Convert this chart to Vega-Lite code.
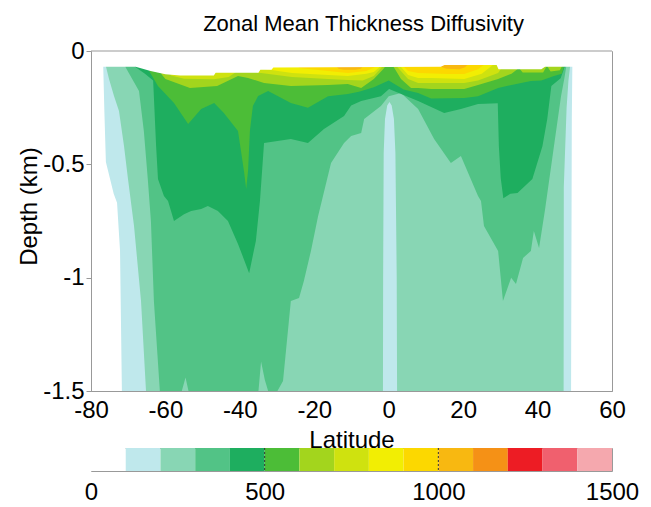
{
  "$schema": "https://vega.github.io/schema/vega-lite/v6.json",
  "padding": {"left": 16, "top": 12, "right": 5, "bottom": 5},
  "bounds": "flush",
  "spacing": 57,
  "resolve": {"scale": {"x": "independent"}},
  "config": {
    "font": "Liberation Sans",
    "view": {"stroke": "#999999"},
    "axis": {"labelColor": "black", "titleColor": "black", "labelFont": "Liberation Sans", "titleFont": "Liberation Sans", "titleFontWeight": "normal", "grid": false, "labelFlush": false, "labelOverlap": false, "domainColor": "#999999", "tickColor": "#999999"}
  },
  "datasets": {
    "contours": [
      {"level":100,"lat":-76.7,"depth":-0.075},{"level":100,"lat":-76.4,"depth":-0.27},{"level":100,"lat":-76.0,"depth":-0.49},{"level":100,"lat":-73.9,"depth":-0.63},{"level":100,"lat":-73.0,"depth":-0.67},{"level":100,"lat":-72.2,"depth":-0.88},{"level":100,"lat":-71.7,"depth":-1.5},{"level":100,"lat":49.0,"depth":-1.5},{"level":100,"lat":49.2,"depth":-0.3},{"level":100,"lat":49.35,"depth":-0.06},

      {"level":200,"lat":-76.2,"depth":-0.06},{"level":200,"lat":-75.97,"depth":-0.07},{"level":200,"lat":-75.16,"depth":-0.124},{"level":200,"lat":-73.82,"depth":-0.199},{"level":200,"lat":-72.48,"depth":-0.265},{"level":200,"lat":-71.13,"depth":-0.419},{"level":200,"lat":-70.06,"depth":-0.565},{"level":200,"lat":-68.44,"depth":-0.772},{"level":200,"lat":-66.56,"depth":-1.103},{"level":200,"lat":-65.22,"depth":-1.5},{"level":200,"lat":-1.55,"depth":-1.5},{"level":200,"lat":-1.5,"depth":-1.0},{"level":200,"lat":-1.35,"depth":-0.45},{"level":200,"lat":-1.0,"depth":-0.3},{"level":200,"lat":-0.4,"depth":-0.24},{"level":200,"lat":0.2,"depth":-0.225},{"level":200,"lat":0.8,"depth":-0.24},{"level":200,"lat":1.4,"depth":-0.3},{"level":200,"lat":1.8,"depth":-0.45},{"level":200,"lat":2.15,"depth":-1.0},{"level":200,"lat":2.25,"depth":-1.5},{"level":200,"lat":47.0,"depth":-1.5},{"level":200,"lat":47.05,"depth":-0.6},{"level":200,"lat":47.8,"depth":-0.25},{"level":200,"lat":48.3,"depth":-0.13},{"level":200,"lat":48.8,"depth":-0.06},

      {"level":300,"lat":-71.0,"depth":-0.06},{"level":300,"lat":-70.6,"depth":-0.075},{"level":300,"lat":-67.1,"depth":-0.176},{"level":300,"lat":-65.8,"depth":-0.353},{"level":300,"lat":-64.7,"depth":-0.574},{"level":300,"lat":-63.9,"depth":-0.75},{"level":300,"lat":-63.1,"depth":-1.103},{"level":300,"lat":-61.5,"depth":-1.5},{"level":300,"lat":-55.6,"depth":-1.5},{"level":300,"lat":-54.6,"depth":-1.44},{"level":300,"lat":-53.8,"depth":-1.5},{"level":300,"lat":-35.0,"depth":-1.5},{"level":300,"lat":-34.3,"depth":-1.37},{"level":300,"lat":-33.3,"depth":-1.45},{"level":300,"lat":-32.4,"depth":-1.5},{"level":300,"lat":-29.9,"depth":-1.5},{"level":300,"lat":-28.4,"depth":-1.456},{"level":300,"lat":-26.3,"depth":-1.103},{"level":300,"lat":-24.1,"depth":-1.09},{"level":300,"lat":-22.8,"depth":-1.015},{"level":300,"lat":-20.9,"depth":-0.882},{"level":300,"lat":-19.0,"depth":-0.73},{"level":300,"lat":-15.5,"depth":-0.494},{"level":300,"lat":-12.0,"depth":-0.406},{"level":300,"lat":-10.1,"depth":-0.375},{"level":300,"lat":-7.4,"depth":-0.362},{"level":300,"lat":-6.6,"depth":-0.30},{"level":300,"lat":-2.1,"depth":-0.243},{"level":300,"lat":0.0,"depth":-0.20},{"level":300,"lat":3.3,"depth":-0.185},{"level":300,"lat":7.9,"depth":-0.256},{"level":300,"lat":12.2,"depth":-0.388},{"level":300,"lat":16.7,"depth":-0.494},{"level":300,"lat":19.4,"depth":-0.463},{"level":300,"lat":24.0,"depth":-0.64},{"level":300,"lat":24.8,"depth":-0.662},{"level":300,"lat":25.6,"depth":-0.772},{"level":300,"lat":29.4,"depth":-0.882},{"level":300,"lat":30.7,"depth":-1.103},{"level":300,"lat":32.9,"depth":-1.0},{"level":300,"lat":34.2,"depth":-1.028},{"level":300,"lat":36.1,"depth":-0.913},{"level":300,"lat":38.2,"depth":-0.882},{"level":300,"lat":39.0,"depth":-0.794},{"level":300,"lat":40.4,"depth":-0.869},{"level":300,"lat":42.0,"depth":-0.70},{"level":300,"lat":44.4,"depth":-0.42},{"level":300,"lat":46.3,"depth":-0.2},{"level":300,"lat":47.2,"depth":-0.12},{"level":300,"lat":47.8,"depth":-0.06},

      {"level":400,"lat":-68.3,"depth":-0.06},{"level":400,"lat":-68.0,"depth":-0.072},{"level":400,"lat":-65.5,"depth":-0.10},{"level":400,"lat":-63.3,"depth":-0.13},{"level":400,"lat":-62.5,"depth":-0.42},{"level":400,"lat":-62.0,"depth":-0.565},{"level":400,"lat":-60.4,"depth":-0.64},{"level":400,"lat":-59.3,"depth":-0.662},{"level":400,"lat":-57.7,"depth":-0.75},{"level":400,"lat":-55.0,"depth":-0.72},{"level":400,"lat":-53.1,"depth":-0.706},{"level":400,"lat":-50.4,"depth":-0.697},{"level":400,"lat":-48.6,"depth":-0.684},{"level":400,"lat":-45.9,"depth":-0.706},{"level":400,"lat":-43.2,"depth":-0.75},{"level":400,"lat":-40.5,"depth":-0.851},{"level":400,"lat":-37.5,"depth":-0.98},{"level":400,"lat":-35.7,"depth":-0.838},{"level":400,"lat":-34.6,"depth":-0.662},{"level":400,"lat":-33.5,"depth":-0.406},{"level":400,"lat":-26.3,"depth":-0.388},{"level":400,"lat":-21.7,"depth":-0.406},{"level":400,"lat":-17.4,"depth":-0.344},{"level":400,"lat":-12.0,"depth":-0.287},{"level":400,"lat":-10.1,"depth":-0.24},{"level":400,"lat":-7.4,"depth":-0.221},{"level":400,"lat":-2.1,"depth":-0.20},{"level":400,"lat":0.1,"depth":-0.168},{"level":400,"lat":1.4,"depth":-0.176},{"level":400,"lat":7.9,"depth":-0.221},{"level":400,"lat":14.9,"depth":-0.274},{"level":400,"lat":19.4,"depth":-0.256},{"level":400,"lat":24.0,"depth":-0.234},{"level":400,"lat":29.3,"depth":-0.23},{"level":400,"lat":29.6,"depth":-0.42},{"level":400,"lat":30.1,"depth":-0.56},{"level":400,"lat":30.8,"depth":-0.65},{"level":400,"lat":32.7,"depth":-0.63},{"level":400,"lat":34.6,"depth":-0.626},{"level":400,"lat":38.6,"depth":-0.565},{"level":400,"lat":41.3,"depth":-0.42},{"level":400,"lat":42.6,"depth":-0.30},{"level":400,"lat":43.7,"depth":-0.154},{"level":400,"lat":46.2,"depth":-0.12},{"level":400,"lat":47.5,"depth":-0.06},

      {"level":500,"lat":-64.8,"depth":-0.06},{"level":500,"lat":-64.3,"depth":-0.09},{"level":500,"lat":-62.0,"depth":-0.154},{"level":500,"lat":-57.7,"depth":-0.229},{"level":500,"lat":-53.9,"depth":-0.322},{"level":500,"lat":-50.4,"depth":-0.256},{"level":500,"lat":-46.9,"depth":-0.229},{"level":500,"lat":-44.3,"depth":-0.274},{"level":500,"lat":-40.5,"depth":-0.353},{"level":500,"lat":-38.9,"depth":-0.529},{"level":500,"lat":-38.3,"depth":-0.609},{"level":500,"lat":-37.8,"depth":-0.529},{"level":500,"lat":-37.3,"depth":-0.353},{"level":500,"lat":-36.5,"depth":-0.243},{"level":500,"lat":-35.1,"depth":-0.199},{"level":500,"lat":-32.4,"depth":-0.176},{"level":500,"lat":-26.3,"depth":-0.229},{"level":500,"lat":-21.7,"depth":-0.25},{"level":500,"lat":-16.3,"depth":-0.20},{"level":500,"lat":-11.0,"depth":-0.19},{"level":500,"lat":-8.0,"depth":-0.18},{"level":500,"lat":-4.0,"depth":-0.16},{"level":500,"lat":0.0,"depth":-0.13},{"level":500,"lat":4.0,"depth":-0.17},{"level":500,"lat":7.9,"depth":-0.185},{"level":500,"lat":11.4,"depth":-0.21},{"level":500,"lat":20.3,"depth":-0.207},{"level":500,"lat":24.0,"depth":-0.20},{"level":500,"lat":29.4,"depth":-0.163},{"level":500,"lat":33.0,"depth":-0.15},{"level":500,"lat":38.2,"depth":-0.132},{"level":500,"lat":41.0,"depth":-0.13},{"level":500,"lat":44.4,"depth":-0.11},{"level":500,"lat":46.5,"depth":-0.10},{"level":500,"lat":47.3,"depth":-0.06},

      {"level":600,"lat":-61.3,"depth":-0.09},{"level":600,"lat":-61.0,"depth":-0.104},{"level":600,"lat":-60.0,"depth":-0.124},{"level":600,"lat":-53.4,"depth":-0.163},{"level":600,"lat":-46.1,"depth":-0.154},{"level":600,"lat":-40.5,"depth":-0.11},{"level":600,"lat":-37.8,"depth":-0.119},{"level":600,"lat":-33.5,"depth":-0.141},{"level":600,"lat":-26.3,"depth":-0.154},{"level":600,"lat":-16.3,"depth":-0.15},{"level":600,"lat":-11.0,"depth":-0.146},{"level":600,"lat":-7.4,"depth":-0.163},{"level":600,"lat":-4.0,"depth":-0.124},{"level":600,"lat":-1.5,"depth":-0.08},{"level":600,"lat":-0.5,"depth":-0.06},{"level":600,"lat":0.8,"depth":-0.06},{"level":600,"lat":1.5,"depth":-0.075},{"level":600,"lat":3.3,"depth":-0.124},{"level":600,"lat":6.0,"depth":-0.163},{"level":600,"lat":7.9,"depth":-0.163},{"level":600,"lat":11.4,"depth":-0.168},{"level":600,"lat":20.3,"depth":-0.168},{"level":600,"lat":24.0,"depth":-0.15},{"level":600,"lat":29.4,"depth":-0.124},{"level":600,"lat":33.0,"depth":-0.10},{"level":600,"lat":35.0,"depth":-0.075},{"level":600,"lat":36.0,"depth":-0.095},{"level":600,"lat":41.5,"depth":-0.095},{"level":600,"lat":42.5,"depth":-0.065},{"level":600,"lat":43.5,"depth":-0.09},{"level":600,"lat":46.0,"depth":-0.085},{"level":600,"lat":46.8,"depth":-0.06},

      {"level":700,"lat":-58.8,"depth":-0.09},{"level":700,"lat":-58.5,"depth":-0.108},{"level":700,"lat":-55.0,"depth":-0.122},{"level":700,"lat":-47.0,"depth":-0.125},{"level":700,"lat":-43.0,"depth":-0.115},{"level":700,"lat":-41.5,"depth":-0.098},{"level":700,"lat":-40.5,"depth":-0.085},{"level":700,"lat":-36.0,"depth":-0.085},{"level":700,"lat":-35.2,"depth":-0.097},{"level":700,"lat":-34.3,"depth":-0.097},{"level":700,"lat":-26.0,"depth":-0.115},{"level":700,"lat":-16.3,"depth":-0.124},{"level":700,"lat":-11.0,"depth":-0.128},{"level":700,"lat":-7.0,"depth":-0.13},{"level":700,"lat":-4.0,"depth":-0.11},{"level":700,"lat":-1.5,"depth":-0.065},{"level":700,"lat":2.0,"depth":-0.065},{"level":700,"lat":5.2,"depth":-0.124},{"level":700,"lat":7.9,"depth":-0.141},{"level":700,"lat":11.4,"depth":-0.141},{"level":700,"lat":20.3,"depth":-0.141},{"level":700,"lat":24.0,"depth":-0.13},{"level":700,"lat":29.4,"depth":-0.097},{"level":700,"lat":31.0,"depth":-0.06},

      {"level":800,"lat":-33.5,"depth":-0.07},{"level":800,"lat":-33.0,"depth":-0.08},{"level":800,"lat":-26.0,"depth":-0.097},{"level":800,"lat":-16.3,"depth":-0.106},{"level":800,"lat":-11.0,"depth":-0.11},{"level":800,"lat":-6.0,"depth":-0.10},{"level":800,"lat":-4.0,"depth":-0.093},{"level":800,"lat":-2.0,"depth":-0.065},{"level":800,"lat":3.0,"depth":-0.065},{"level":800,"lat":5.2,"depth":-0.106},{"level":800,"lat":7.9,"depth":-0.119},{"level":800,"lat":11.4,"depth":-0.119},{"level":800,"lat":20.3,"depth":-0.124},{"level":800,"lat":25.0,"depth":-0.10},{"level":800,"lat":28.5,"depth":-0.055},

      {"level":900,"lat":-24.5,"depth":-0.065},{"level":900,"lat":-24.0,"depth":-0.075},{"level":900,"lat":-16.3,"depth":-0.088},{"level":900,"lat":-11.0,"depth":-0.097},{"level":900,"lat":-6.0,"depth":-0.088},{"level":900,"lat":-3.0,"depth":-0.065},{"level":900,"lat":3.5,"depth":-0.06},{"level":900,"lat":5.2,"depth":-0.088},{"level":900,"lat":7.9,"depth":-0.097},{"level":900,"lat":16.0,"depth":-0.101},{"level":900,"lat":20.3,"depth":-0.101},{"level":900,"lat":24.0,"depth":-0.08},{"level":900,"lat":26.0,"depth":-0.055},

      {"level":1000,"lat":-14.5,"depth":-0.06},{"level":1000,"lat":-13.5,"depth":-0.078},{"level":1000,"lat":-12.0,"depth":-0.083},{"level":1000,"lat":-9.0,"depth":-0.083},{"level":1000,"lat":-7.5,"depth":-0.078},{"level":1000,"lat":-6.5,"depth":-0.06},{"level":1000,"lat":12.5,"depth":-0.055},{"level":1000,"lat":14.0,"depth":-0.07},{"level":1000,"lat":15.5,"depth":-0.078},{"level":1000,"lat":19.0,"depth":-0.08},{"level":1000,"lat":20.5,"depth":-0.072},{"level":1000,"lat":21.5,"depth":-0.055}
    ],
    "surface": [
      {"lat":-80,"depth":-0.07},{"lat":-68,"depth":-0.07},{"lat":-64,"depth":-0.088},{"lat":-60,"depth":-0.103},{"lat":-56,"depth":-0.108},{"lat":-47,"depth":-0.108},{"lat":-46.5,"depth":-0.096},{"lat":-35,"depth":-0.096},{"lat":-34.5,"depth":-0.083},{"lat":-31.5,"depth":-0.083},{"lat":-31,"depth":-0.073},{"lat":14,"depth":-0.07},{"lat":15,"depth":-0.062},{"lat":29,"depth":-0.062},{"lat":29.5,"depth":-0.08},{"lat":41,"depth":-0.08},{"lat":42,"depth":-0.07},{"lat":60,"depth":-0.07}
    ],
    "bar": [
      {"lo":0,"hi":100},{"lo":100,"hi":200},{"lo":200,"hi":300},{"lo":300,"hi":400},{"lo":400,"hi":500},{"lo":500,"hi":600},{"lo":600,"hi":700},{"lo":700,"hi":800},{"lo":800,"hi":900},{"lo":900,"hi":1000},{"lo":1000,"hi":1100},{"lo":1100,"hi":1200},{"lo":1200,"hi":1300},{"lo":1300,"hi":1400},{"lo":1400,"hi":1500}
    ]
  },
  "vconcat": [
    {
      "width": 521,
      "height": 340,
      "title": {"text": "Zonal Mean Thickness Diffusivity", "fontSize": 22, "fontWeight": "normal", "font": "Liberation Sans", "color": "black", "anchor": "middle", "frame": "group", "baseline": "alphabetic", "offset": -14, "dx": 12},
      "layer": [
        {
          "encoding": {
            "x": {"field": "lat", "type": "quantitative", "scale": {"domain": [-80, 60], "nice": false, "zero": false},
                  "axis": {"values": [-80,-60,-40,-20,0,20,40,60], "labelExpr": "'' + datum.value", "ticks": false, "labelPadding": 7, "labelFontSize": 24, "title": "Latitude", "titleFontSize": 24, "titleY": 56, "titleBaseline": "alphabetic", "zindex": 1}},
            "y": {"field": "depth", "type": "quantitative", "stack": null, "scale": {"domain": [-1.5, 0], "nice": false, "zero": false},
                  "axis": {"values": [0,-0.5,-1,-1.5], "labelExpr": "'' + datum.value", "tickSize": 5, "labelPadding": 2, "labelFontSize": 24, "title": "Depth (km)", "titleFontSize": 24, "titleX": -55, "titleY": 155, "titleAngle": 270, "titleAlign": "center", "titleBaseline": "alphabetic", "zindex": 1}},
            "y2": {"datum": 0}
          },
          "layer": [
            {"data": {"name": "contours"}, "transform": [{"filter": "datum.level == 100"}], "mark": {"type": "area", "orient": "vertical", "color": "#bfe8ec"}},
            {"data": {"name": "contours"}, "transform": [{"filter": "datum.level == 200"}], "mark": {"type": "area", "orient": "vertical", "color": "#88d6b4"}},
            {"data": {"name": "contours"}, "transform": [{"filter": "datum.level == 300"}], "mark": {"type": "area", "orient": "vertical", "color": "#52c386"}},
            {"data": {"name": "contours"}, "transform": [{"filter": "datum.level == 400"}], "mark": {"type": "area", "orient": "vertical", "color": "#1eae5f"}},
            {"data": {"name": "contours"}, "transform": [{"filter": "datum.level == 500"}], "mark": {"type": "area", "orient": "vertical", "color": "#4cbd37"}},
            {"data": {"name": "contours"}, "transform": [{"filter": "datum.level == 600"}], "mark": {"type": "area", "orient": "vertical", "color": "#a3d51d"}},
            {"data": {"name": "contours"}, "transform": [{"filter": "datum.level == 700"}], "mark": {"type": "area", "orient": "vertical", "color": "#cfe20f"}},
            {"data": {"name": "contours"}, "transform": [{"filter": "datum.level == 800"}], "mark": {"type": "area", "orient": "vertical", "color": "#f2ee03"}},
            {"data": {"name": "contours"}, "transform": [{"filter": "datum.level == 900"}], "mark": {"type": "area", "orient": "vertical", "color": "#fcd800"}},
            {"data": {"name": "contours"}, "transform": [{"filter": "datum.level == 1000"}], "mark": {"type": "area", "orient": "vertical", "color": "#f8b811"}},
            {"data": {"name": "surface"}, "mark": {"type": "area", "orient": "vertical", "color": "white"}}
          ]
        },
        {
          "data": {"values": [{}]},
          "mark": {"type": "rule", "color": "#999999", "strokeWidth": 1},
          "encoding": {"y": {"datum": 0}}
        }
      ]
    },
    {
      "width": 521,
      "height": 23,
      "layer": [
        {
          "data": {"name": "bar"},
          "mark": {"type": "rect"},
          "encoding": {
            "x": {"field": "lo", "type": "quantitative", "scale": {"domain": [0, 1500], "nice": false, "zero": false},
                  "axis": {"values": [0, 500, 1000, 1500], "labelExpr": "'' + datum.value", "ticks": false, "domain": false, "labelPadding": 9, "labelFontSize": 24, "title": null}},
            "x2": {"field": "hi"},
            "color": {"field": "lo", "type": "ordinal", "legend": null,
                      "scale": {"domain": [0,100,200,300,400,500,600,700,800,900,1000,1100,1200,1300,1400],
                                "range": ["#ffffff","#bfe8ec","#88d6b4","#52c386","#1eae5f","#4cbd37","#a3d51d","#cfe20f","#f2ee03","#fcd800","#f8b811","#f59116","#ed1c24","#f0606e","#f5a8ae"]}}
          }
        },
        {
          "data": {"values": [{"b": 500}, {"b": 1000}]},
          "mark": {"type": "rule", "color": "#333333", "strokeDash": [2, 2], "strokeWidth": 1},
          "encoding": {"x": {"field": "b", "type": "quantitative"}}
        }
      ]
    }
  ]
}
